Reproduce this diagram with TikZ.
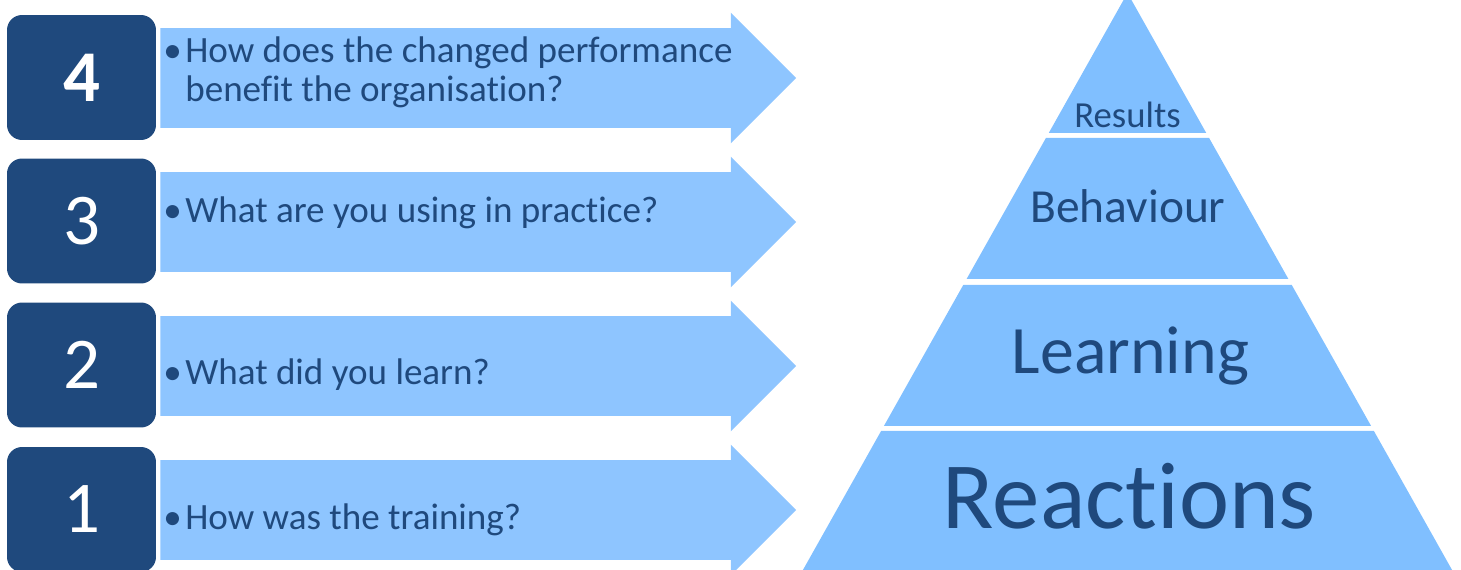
\documentclass[tikz,border=0pt]{standalone}
\usepackage{fontspec}
\setmainfont{Carlito}[Ligatures=NoCommon]
\usepackage{tikz}
\usetikzlibrary{shapes.arrows, positioning}
\definecolor{kpdark}{HTML}{1F497D}
\definecolor{kparrow}{HTML}{8EC5FF}
\definecolor{kplevel}{HTML}{80BFFF}
\newcommand{\bulletitem}{\makebox[0.44cm][l]{\textbullet}}

\begin{document}
\begin{tikzpicture}[x=0.02cm, y=-0.02cm,
    stage/.style={rectangle, rounded corners=0.3cm, fill=kpdark, minimum width=2.98cm, minimum height=2.5cm, inner sep=0pt, text=white, font=\fontsize{41.5}{45}\selectfont},
    question/.style={single arrow, fill=kparrow, minimum height=12.72cm, minimum width=2.6cm, single arrow head extend=0.31cm, single arrow tip angle=90, inner xsep=0pt, inner ysep=0.99cm, anchor=tail},
    ask/.style={anchor=base west, inner sep=0pt, text=kpdark, align=left, font=\fontsize{21.1}{22.2}\selectfont},
    tier/.style={fill=kplevel},
    tiername/.style={anchor=base, inner sep=0pt, text=kpdark, font=\fontsize{#1}{#1}\selectfont}
]
\clip (0,0) rectangle (1461,570);

\node[stage] (n4) at (81.5,77.5) {\bfseries 4};
\node[stage] (n3) at (81.5,221) {3};
\node[stage] (n2) at (81.5,365) {2};
\node[stage] (n1) at (81.5,509.5) {1};

\node[question] (q4) at (160,78) {};
\node[question] (q3) at (160,222) {};
\node[question] (q2) at (160,366) {};
\node[question] (q1) at (160,510) {};

\node[ask] (t4) at (163,102) {\bulletitem How does the changed performance\\\hspace*{0.44cm}benefit the organisation?};
\node[ask] (t3) at (163,223) {\bulletitem What are you using in practice?};
\node[ask] (t2) at (163,385) {\bulletitem What did you learn?};
\node[ask] (t1) at (163,530) {\bulletitem How was the training?};

\fill[tier] (1127.5,-7) -- (1206.25,133) -- (1048.75,133) -- cycle;
\fill[tier] (1045.9,138) -- (1209.1,138) -- (1288.4,279) -- (966.6,279) -- cycle;
\fill[tier] (963.25,285) -- (1291.75,285) -- (1371.1,426) -- (883.9,426) -- cycle;
\fill[tier] (881.1,431) -- (1373.9,431) -- (1457.7,580) -- (797.3,580) -- cycle;

\node[tiername=20.9] (results) at (1127.5,128) {Results};
\node[tiername=27] (behaviour) at (1128,223) {Behaviour};
\node[tiername=38.6] (learning) at (1130.5,374) {Learning};
\node[tiername=54] (reactions) at (1129.5,529) {Reactions};
\end{tikzpicture}
\end{document}
